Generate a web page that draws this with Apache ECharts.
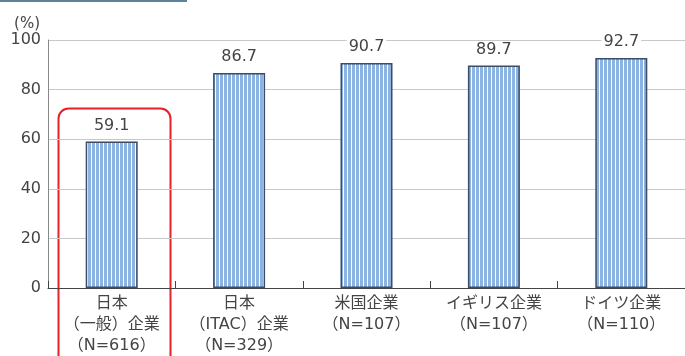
<!DOCTYPE html>
<html>
<head>
<meta charset="utf-8">
<script src="https://cdn.jsdelivr.net/npm/echarts@6/dist/echarts.min.js"></script>
<style>
html,body{margin:0;padding:0;background:#fff;}
#main{width:685px;height:356px;}
</style>
</head>
<body>
<div id="main"></div>
<script>
var categories = ['日本\n（一般）企業\n（N=616）', '日本\n（ITAC）企業\n（N=329）', '米国企業\n（N=107）', 'イギリス企業\n（N=107）', 'ドイツ企業\n（N=110）'];
var values = [59.1, 86.7, 90.7, 89.7, 92.7];
var yTicks = [0, 20, 40, 60, 80, 100];

// striped fill for the bars
var stripe = document.createElement('canvas');
stripe.width = 4;
stripe.height = 4;
var ctx = stripe.getContext('2d');
ctx.fillStyle = '#8cb4e2';
ctx.fillRect(0, 0, 4, 4);
ctx.fillStyle = '#ffffff';
ctx.fillRect(3, 0, 1, 4);

var font = '"DejaVu Sans", "Noto Sans CJK JP", sans-serif';

var myChart = echarts.init(document.getElementById('main'));
var option = {
    animation: false,
    textStyle: {fontFamily: font},
    grid: {left: 48, right: -8, top: 40, bottom: 68},
    xAxis: {
        type: 'category',
        data: categories,
        axisLine: {lineStyle: {color: '#444', width: 1.2}},
        axisTick: {show: true, inside: true, length: 7, lineStyle: {color: '#444'}},
        axisLabel: {color: '#444', fontSize: 16, lineHeight: 21, margin: 5, interval: 0, hideOverlap: false, fontFamily: font}
    },
    yAxis: {
        type: 'value',
        name: '(%)',
        nameLocation: 'end',
        nameGap: 8,
        nameTextStyle: {color: '#444', fontSize: 15, align: 'right', padding: [0, 8, 0, 0], fontFamily: font},
        min: yTicks[0],
        max: yTicks[yTicks.length - 1],
        interval: 20,
        axisLine: {show: true, lineStyle: {color: '#888'}},
        axisTick: {show: false},
        axisLabel: {color: '#444', fontSize: 16, margin: 7, fontFamily: font},
        splitLine: {lineStyle: {color: '#c8c8c8'}}
    },
    series: [{
        type: 'bar',
        data: values,
        barWidth: 52,
        itemStyle: {
            color: {image: stripe, repeat: 'repeat'},
            borderColor: '#3d4b63',
            borderWidth: 1.5
        },
        label: {
            show: true,
            position: 'top',
            distance: 8,
            color: '#444',
            fontSize: 16,
            fontFamily: font,
            backgroundColor: '#fff',
            padding: [0, 2]
        }
    }],
    graphic: [
        {type: 'rect', left: 0, top: 0, shape: {width: 187, height: 2}, style: {fill: '#5b8297'}},
        {type: 'rect', left: 56, top: 106, shape: {width: 112, height: 260, r: 10},
         style: {fill: 'none', stroke: '#e8202a', lineWidth: 2}}
    ]
};
myChart.setOption(option);
</script>
</body>
</html>
